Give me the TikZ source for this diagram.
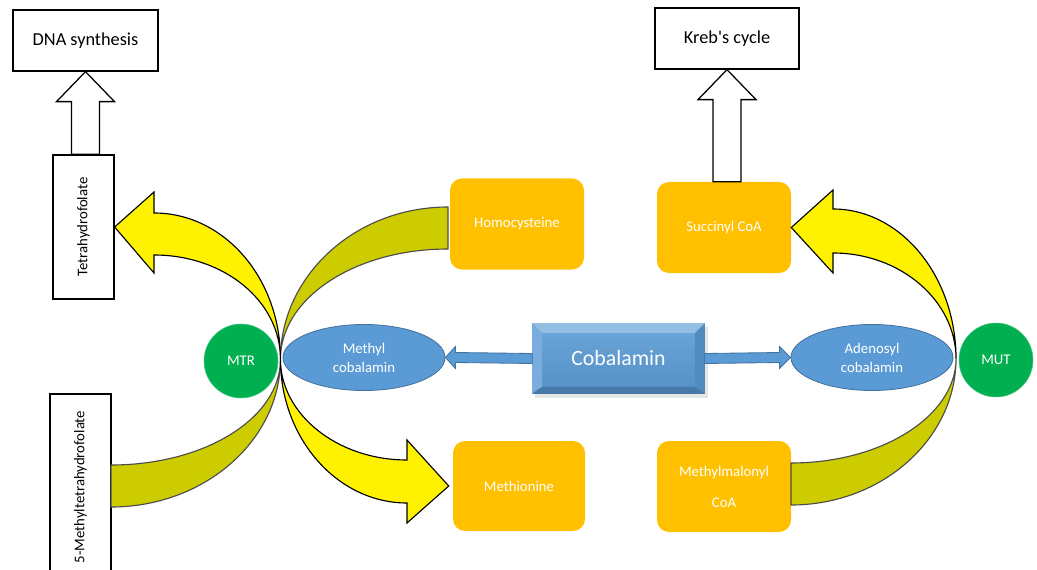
\documentclass[tikz,border=0pt]{standalone}
\usepackage{fontspec}
\setmainfont{Carlito}
\usetikzlibrary{calc,shapes.geometric}
\definecolor{fateorange}{HTML}{FFC000}
\definecolor{enzgreen}{HTML}{00B050}
\definecolor{cblblue}{HTML}{5B9BD5}
\definecolor{cbledge}{HTML}{41719C}
\definecolor{backolive}{HTML}{CCCC00}
\newcommand{\pxu}{0.025cm}

\begin{document}
\begin{tikzpicture}[x=0.025cm, y=-0.025cm,
				plainbox/.style={rectangle, draw=black, line width=0.9pt, fill=white, font=\fontsize{13}{15}\selectfont},
				sidebox/.style={rectangle, draw=black, line width=0.9pt, fill=white, minimum width=61*\pxu, font=\fontsize{10.5}{12}\selectfont},
				fate/.style={rectangle, rounded corners=0.3cm, fill=fateorange, text=white, minimum width=134*\pxu, minimum height=91*\pxu, align=center, font=\fontsize{10.5}{13}\selectfont},
				enzyme/.style={circle, fill=enzgreen, draw=enzgreen!70!white, text=white, minimum size=74*\pxu, inner sep=0, font=\fontsize{10.5}{12}\selectfont},
				cofactor/.style={ellipse, fill=cblblue, draw=cbledge, line width=0.6pt, text=white, minimum width=162*\pxu, minimum height=66*\pxu, inner sep=0, align=center, font=\fontsize{10.5}{13.5}\selectfont},
				hollow/.style={draw=black, line width=0.9pt, fill=white},
				cobarrow/.style={draw=cbledge, line width=0.6pt, fill=cblblue},
				band/.style={draw=black, line width=0.8pt, fill=yellow},
				backband/.style={draw=black!70, line width=0.8pt, fill=backolive}]
				
				\useasboundingbox (0,0) rectangle (1037,570);
				\clip (0,0) rectangle (1037,570);
				
				% outcome boxes
				\node [plainbox, minimum width=145*\pxu, minimum height=61*\pxu] (dna) at (85.5,40.5) {DNA synthesis};
				\node [plainbox, minimum width=144*\pxu, minimum height=61*\pxu] (krebs) at (727,38.5) {Kreb\textquotesingle s cycle};
				\node [sidebox, minimum height=144*\pxu] (thf) at (83.5,227) {\rotatebox{90}{Tetrahydrofolate}};
				\node [sidebox, minimum height=186*\pxu] (mthf) at (80.5,487) {\rotatebox{90}{5-Methyltetrahydrofolate}};
				
				% substrates and products
				\node [fate] (hcy) at (517,224) {Homocysteine};
				\node [fate] (succ) at (724,227.5) {Succinyl CoA};
				\node [fate, minimum width=132*\pxu, minimum height=90*\pxu] (met) at (519,486) {Methionine};
				\node [fate] (mmcoa) at (724,486.5) {Methylmalonyl\\[9pt]CoA};
				
				% enzymes and cofactors
				\node [enzyme] (mtr) at (241,361) {MTR};
				\node [enzyme] (mut) at (996,360) {MUT};
				\node [cofactor] (mecbl) at (364,357.5) {Methyl\\cobalamin};
				\node [cofactor] (adocbl) at (872,357.5) {Adenosyl\\cobalamin};
				
				% cobalamin block
				\fill [black!10] (535,327) rectangle (708,398);
				\node [rectangle, top color=cblblue!90!white, bottom color=cblblue!93!black, minimum width=172*\pxu, minimum height=70*\pxu, inner sep=0, text=white, font=\fontsize{15.5}{18}\selectfont] (cob) at (618.5,358.5) {Cobalamin};
				\fill [cblblue!65!white] (cob.north west) -- (cob.north east) -- ($(cob.north east)+(-10,10)$) -- ($(cob.north west)+(10,10)$) -- cycle;
				\fill [cblblue!82!white] (cob.north west) -- ($(cob.north west)+(10,10)$) -- ($(cob.south west)+(10,-7)$) -- (cob.south west) -- cycle;
				\fill [cblblue!90!black] (cob.north east) -- ($(cob.north east)+(-10,10)$) -- ($(cob.south east)+(-10,-7)$) -- (cob.south east) -- cycle;
				\fill [cblblue!78!black] (cob.south west) -- ($(cob.south west)+(10,-7)$) -- ($(cob.south east)+(-10,-7)$) -- (cob.south east) -- cycle;
				
				\draw [cobarrow] ($(cob.west)+(0,-5)$) -- ($(mecbl.east)+(10,-5)$) -- ($(mecbl.east)+(10,-11)$) -- (mecbl.east) -- ($(mecbl.east)+(10,11)$) -- ($(mecbl.east)+(10,5)$) -- ($(cob.west)+(0,5)$) -- cycle;
				\draw [cobarrow] ($(cob.east)+(0,-5)$) -- ($(adocbl.west)+(-11,-5)$) -- ($(adocbl.west)+(-11,-11)$) -- (adocbl.west) -- ($(adocbl.west)+(-11,11)$) -- ($(adocbl.west)+(-11,5)$) -- ($(cob.east)+(0,5)$) -- cycle;
				
				% hollow arrows
				\draw [hollow] (dna.south) -- ($(dna.south)+(29,30)$) -- ($(dna.south)+(14,30)$) -- ($(dna.south |- thf.north)+(14,0)$) -- ($(dna.south |- thf.north)+(-14,0)$) -- ($(dna.south)+(-14,30)$) -- ($(dna.south)+(-29,30)$) -- cycle;
				\draw [hollow] (krebs.south) -- ($(krebs.south)+(29,30)$) -- ($(krebs.south)+(14,30)$) -- ($(krebs.south |- succ.north)+(14,0)$) -- ($(krebs.south |- succ.north)+(-14,0)$) -- ($(krebs.south)+(-14,30)$) -- ($(krebs.south)+(-29,30)$) -- cycle;
				
				% curved arrows through the enzymes
				\coordinate (mtrx) at ($(mtr.east)!0.5!(mecbl.west)$);
				\coordinate (mutx) at ($(adocbl.east)!0.5!(mut.west)$);
				\draw [backband] (111,465) .. controls (205,465) and (280.5,418) .. (mtrx) .. controls (280.5,440) and (205,507) .. (111,507) -- cycle;
				\draw [backband] (448,207) .. controls (355,207) and (280.5,276) .. (mtrx) .. controls (280.5,298) and (355,249) .. (448,249) -- cycle;
				\draw [band] (mtrx) .. controls (280.5,278) and (224,213) .. (154,213) -- (154,192) -- (thf.east) -- (154,273) -- (154,255) .. controls (224,255) and (280.5,301) .. (mtrx) -- cycle;
				\draw [band] (mtrx) .. controls (280.5,414) and (337,460) .. (407,460) -- (407,440) -- ($(met.west)+(-4,0)$) -- (407,523) -- (407,503) .. controls (337,503) and (280.5,438) .. (mtrx) -- cycle;
				\draw [backband] (791,463) .. controls (882,463) and (955.7,416) .. (mutx) .. controls (955.7,439) and (882,505) .. (791,505) -- cycle;
				\draw [band] (mutx) .. controls (955.7,275) and (900,209) .. (833,209) -- (833,190) -- (succ.east) -- (833,273) -- (833,253) .. controls (900,253) and (955.7,300) .. (mutx) -- cycle;
				\end{tikzpicture}
\end{document}
